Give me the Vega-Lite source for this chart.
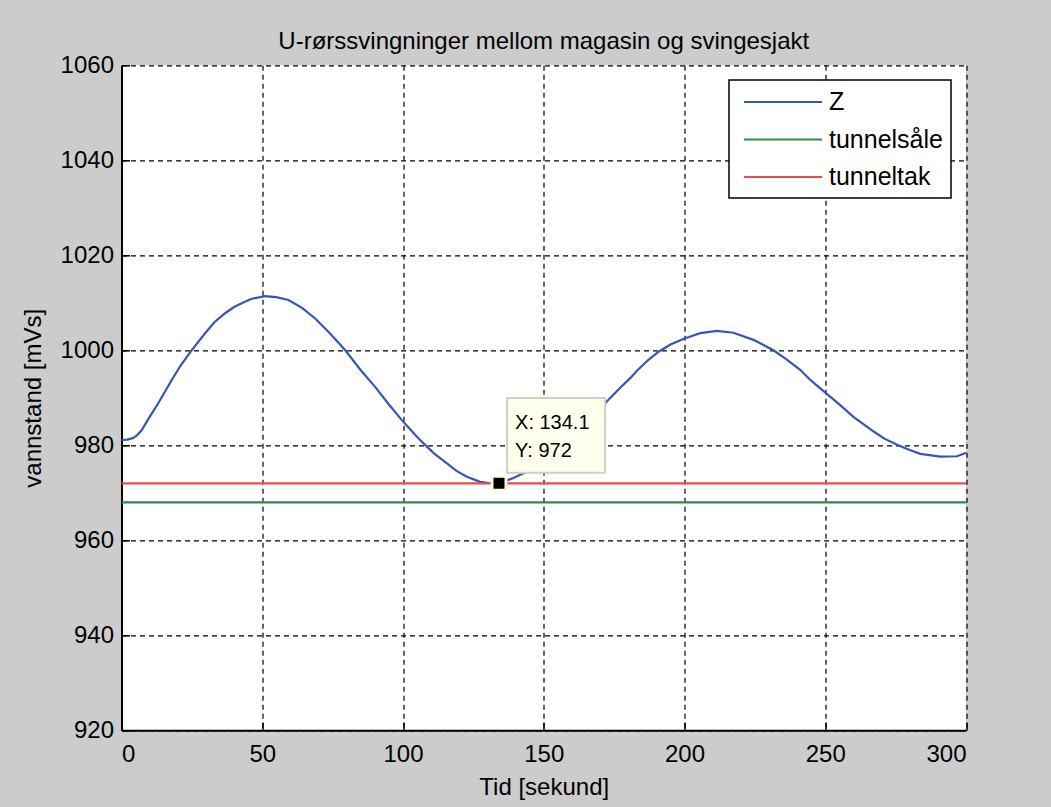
{
  "$schema": "https://vega.github.io/schema/vega-lite/v6.json",
  "autosize": {"type": "none"},
  "padding": {"left": 121.5, "top": 65.3, "right": 85, "bottom": 76.7},
  "width": 844.5,
  "height": 665,
  "background": "#cccccc",
  "title": {"text": "U-rørssvingninger mellom magasin og svingesjakt", "font": "Liberation Sans", "fontSize": 24, "fontWeight": "normal", "color": "#000000", "anchor": "middle", "frame": "group", "baseline": "bottom", "offset": 13, "dy": 38},
  "config": {
    "view": {"fill": "white", "stroke": null},
    "legend": {"strokeWidth": 1.5}
  },
  "layer": [
    {
      "data": {"values": [
        {"t": 0, "v": 981.1, "series": "Z"},
        {"t": 2, "v": 981.2, "series": "Z"},
        {"t": 4, "v": 981.5, "series": "Z"},
        {"t": 5.5, "v": 982.1, "series": "Z"},
        {"t": 7.2, "v": 983.2, "series": "Z"},
        {"t": 9.5, "v": 985.5, "series": "Z"},
        {"t": 13, "v": 988.8, "series": "Z"},
        {"t": 17.8, "v": 993.7, "series": "Z"},
        {"t": 21, "v": 996.8, "series": "Z"},
        {"t": 24.9, "v": 1000, "series": "Z"},
        {"t": 29.7, "v": 1003.6, "series": "Z"},
        {"t": 33, "v": 1005.9, "series": "Z"},
        {"t": 36.8, "v": 1007.8, "series": "Z"},
        {"t": 40, "v": 1009.1, "series": "Z"},
        {"t": 42.7, "v": 1009.9, "series": "Z"},
        {"t": 46, "v": 1010.8, "series": "Z"},
        {"t": 51, "v": 1011.4, "series": "Z"},
        {"t": 55, "v": 1011.2, "series": "Z"},
        {"t": 59.3, "v": 1010.6, "series": "Z"},
        {"t": 64, "v": 1009.0, "series": "Z"},
        {"t": 68.8, "v": 1006.7, "series": "Z"},
        {"t": 74, "v": 1003.6, "series": "Z"},
        {"t": 79.5, "v": 1000, "series": "Z"},
        {"t": 85, "v": 995.8, "series": "Z"},
        {"t": 90.1, "v": 992.3, "series": "Z"},
        {"t": 95, "v": 988.6, "series": "Z"},
        {"t": 99.6, "v": 985.3, "series": "Z"},
        {"t": 104.3, "v": 982.2, "series": "Z"},
        {"t": 107.3, "v": 980.4, "series": "Z"},
        {"t": 111, "v": 978.3, "series": "Z"},
        {"t": 115.6, "v": 976.2, "series": "Z"},
        {"t": 119, "v": 974.6, "series": "Z"},
        {"t": 122.7, "v": 973.4, "series": "Z"},
        {"t": 127.4, "v": 972.3, "series": "Z"},
        {"t": 130, "v": 972.1, "series": "Z"},
        {"t": 134.1, "v": 972, "series": "Z"},
        {"t": 139.2, "v": 973.1, "series": "Z"},
        {"t": 142.8, "v": 974.1, "series": "Z"},
        {"t": 147, "v": 975.4, "series": "Z"},
        {"t": 151, "v": 976.9, "series": "Z"},
        {"t": 155, "v": 978.8, "series": "Z"},
        {"t": 160, "v": 981.4, "series": "Z"},
        {"t": 165, "v": 984.4, "series": "Z"},
        {"t": 170, "v": 987.6, "series": "Z"},
        {"t": 172.4, "v": 989.2, "series": "Z"},
        {"t": 177, "v": 992.0, "series": "Z"},
        {"t": 181, "v": 994.3, "series": "Z"},
        {"t": 183.1, "v": 995.7, "series": "Z"},
        {"t": 187, "v": 997.9, "series": "Z"},
        {"t": 190.8, "v": 999.7, "series": "Z"},
        {"t": 195, "v": 1001.2, "series": "Z"},
        {"t": 200, "v": 1002.5, "series": "Z"},
        {"t": 205.6, "v": 1003.6, "series": "Z"},
        {"t": 211.5, "v": 1004.1, "series": "Z"},
        {"t": 217.4, "v": 1003.7, "series": "Z"},
        {"t": 224.5, "v": 1002.2, "series": "Z"},
        {"t": 231.6, "v": 1000, "series": "Z"},
        {"t": 236, "v": 998.2, "series": "Z"},
        {"t": 241.1, "v": 995.9, "series": "Z"},
        {"t": 245, "v": 993.6, "series": "Z"},
        {"t": 249.6, "v": 991.3, "series": "Z"},
        {"t": 255, "v": 988.6, "series": "Z"},
        {"t": 260, "v": 986, "series": "Z"},
        {"t": 267.2, "v": 982.9, "series": "Z"},
        {"t": 271, "v": 981.4, "series": "Z"},
        {"t": 275.5, "v": 980.1, "series": "Z"},
        {"t": 280, "v": 979, "series": "Z"},
        {"t": 283.8, "v": 978.2, "series": "Z"},
        {"t": 290.9, "v": 977.6, "series": "Z"},
        {"t": 296.8, "v": 977.7, "series": "Z"},
        {"t": 300, "v": 978.4, "series": "Z"},
        {"t": 0, "v": 968, "series": "tunnelsåle"},
        {"t": 300, "v": 968, "series": "tunnelsåle"},
        {"t": 0, "v": 972, "series": "tunneltak"},
        {"t": 300, "v": 972, "series": "tunneltak"}
      ]},
      "mark": {"type": "line", "strokeWidth": 2.2, "clip": true},
      "encoding": {
        "x": {"field": "t", "type": "quantitative",
          "scale": {"domain": [0, 300], "nice": false, "zero": false},
          "axis": {"values": [0, 50, 100, 150, 200, 250, 300], "title": "Tid [sekund]", "format": "d",
            "grid": true, "gridDash": [5, 4], "gridColor": "#000000", "gridOpacity": 1, "gridWidth": 1.2,
            "domainColor": "#000000", "domainWidth": 2, "ticks": true, "tickSize": -8, "tickColor": "#000000", "tickWidth": 1.5,
            "labelPadding": 20, "labelFont": "Liberation Sans", "labelFontSize": 24, "labelColor": "#000000",
            "titleFont": "Liberation Sans", "titleFontSize": 24, "titleFontWeight": "normal", "titleColor": "#000000",
            "titleY": 57, "titleBaseline": "middle"}},
        "y": {"field": "v", "type": "quantitative",
          "scale": {"domain": [920, 1060], "nice": false, "zero": false},
          "axis": {"values": [920, 940, 960, 980, 1000, 1020, 1040, 1060], "title": "vannstand [mVs]", "format": "d",
            "grid": true, "gridDash": [5, 4], "gridColor": "#000000", "gridOpacity": 1, "gridWidth": 1.2,
            "domainColor": "#000000", "domainWidth": 2, "ticks": true, "tickSize": -8, "tickColor": "#000000", "tickWidth": 1.5,
            "labelPadding": 16, "labelFont": "Liberation Sans", "labelFontSize": 24, "labelColor": "#000000",
            "titleFont": "Liberation Sans", "titleFontSize": 24, "titleFontWeight": "normal", "titleColor": "#000000",
            "titleX": -88.5, "titleBaseline": "middle"}},
        "color": {"field": "series", "type": "nominal",
          "scale": {"domain": ["Z", "tunnelsåle", "tunneltak"], "range": ["#3656b4", "#2e8b4a", "#f04a4a"]},
          "legend": {"title": null, "orient": "none", "legendX": 607.5, "legendY": 14.7,
            "fillColor": "#ffffff", "strokeColor": "#000000", "padding": 8,
            "symbolType": "M-3,0H3", "symbolSize": 676, "symbolStrokeWidth": 2, "symbolOffset": 32,
            "labelFont": "Liberation Sans", "labelFontSize": 25, "labelColor": "#000000",
            "labelOffset": 32, "rowPadding": 10.5, "labelLimit": 300}}
      }
    },
    {
      "data": {"values": [{"t1": 137.0, "t2": 171.8, "v1": 989.96, "v2": 974.2}]},
      "mark": {"type": "rect", "fill": "#ffffee", "stroke": "#d0d0c0", "strokeWidth": 2},
      "encoding": {
        "x": {"field": "t1", "type": "quantitative"},
        "x2": {"field": "t2"},
        "y": {"field": "v1", "type": "quantitative"},
        "y2": {"field": "v2"}
      }
    },
    {
      "data": {"values": [
        {"t": 139.8, "v": 984.7, "label": "X: 134.1"},
        {"t": 139.8, "v": 978.8, "label": "Y: 972"}
      ]},
      "mark": {"type": "text", "align": "left", "baseline": "middle", "font": "Liberation Sans", "fontSize": 20, "color": "#000000"},
      "encoding": {
        "x": {"field": "t", "type": "quantitative"},
        "y": {"field": "v", "type": "quantitative"},
        "text": {"field": "label"}
      }
    },
    {
      "data": {"values": [{"t": 134.1, "v": 972}]},
      "mark": {"type": "point", "shape": "square", "filled": true, "fill": "#000000", "stroke": "#ffffe0", "strokeWidth": 3, "size": 196, "opacity": 1},
      "encoding": {
        "x": {"field": "t", "type": "quantitative"},
        "y": {"field": "v", "type": "quantitative"}
      }
    }
  ]
}
